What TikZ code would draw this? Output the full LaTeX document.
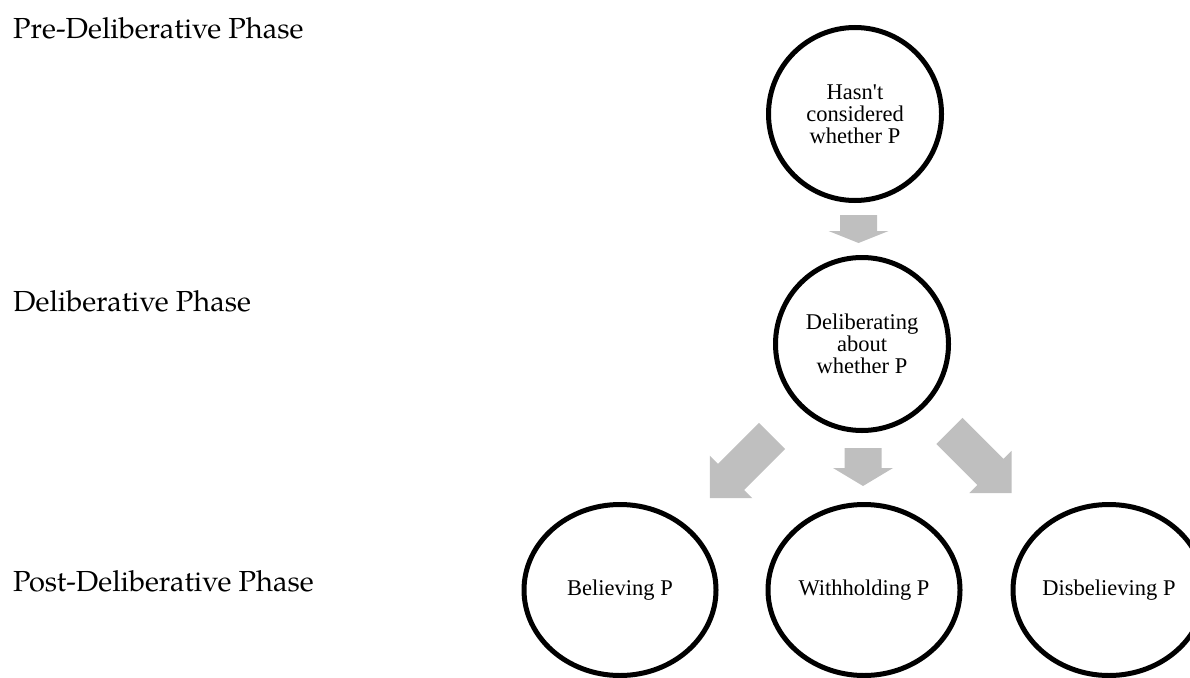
\documentclass[tikz,border=0pt]{standalone}
\usepackage{fontspec}
\setmainfont{Liberation Serif}[Ligatures=TeXOff]
\newfontfamily\phasefont{TeX Gyre Pagella}
\usetikzlibrary{shapes.geometric,calc}
\definecolor{arrowgray}{RGB}{191,191,191}
\tikzset{
	stage/.style = {ellipse, draw, line width=5pt,
		minimum width=#1, minimum height=173pt,
		inner sep=0pt, align=center,
		font=\fontsize{22.5}{22}\selectfont},
	stage/.default = 173pt,
	phase/.style = {anchor=base west, inner sep=0pt,
		font=\phasefont\fontsize{29}{34}\selectfont},
	pics/blockarrow/.style args = {#1/#2}{code={
		\fill[arrowgray] (-#1/2,-18.5) -- (#1/2-#2,-18.5) -- (#1/2-#2,-30)
			-- (#1/2,0) -- (#1/2-#2,30) -- (#1/2-#2,18.5) -- (-#1/2,18.5) -- cycle;
	}}
}

\begin{document}
\begin{tikzpicture}[x=1pt, y=-1pt]
\useasboundingbox (0,0) rectangle (1190,677);

\node[phase] (lpre) at (13,38) {Pre-Deliberative Phase};
\node[phase] (ldel) at (13,311) {Deliberative Phase};
\node[phase] (lpost) at (13,591) {Post-Deliberative Phase};

\node[stage] (pre) at (855,114) {Hasn't\\considered\\whether P};
\node[stage] (delib) at (862,344) {Deliberating\\about\\whether P};
\node[stage=192pt, minimum height=171pt] (bel) at (620,590) {Believing P};
\node[stage=192pt, minimum height=171pt] (wh) at (864,590) {Withholding P};
\node[stage=192pt, minimum height=171pt] (dis) at (1109,590) {Disbelieving P};

\pic[rotate=-90] at ($(pre)!0.5!(delib)$) {blockarrow=28/12};
\pic[rotate=-90] at ($(delib)!0.5!(wh)$) {blockarrow=38/18};
\pic[rotate=-135] at ($(delib)!0.5!(bel)$) {blockarrow=88/30};
\pic[rotate=-45] at ($(delib)!0.48!(dis)$) {blockarrow=88/30};
\end{tikzpicture}
\end{document}
